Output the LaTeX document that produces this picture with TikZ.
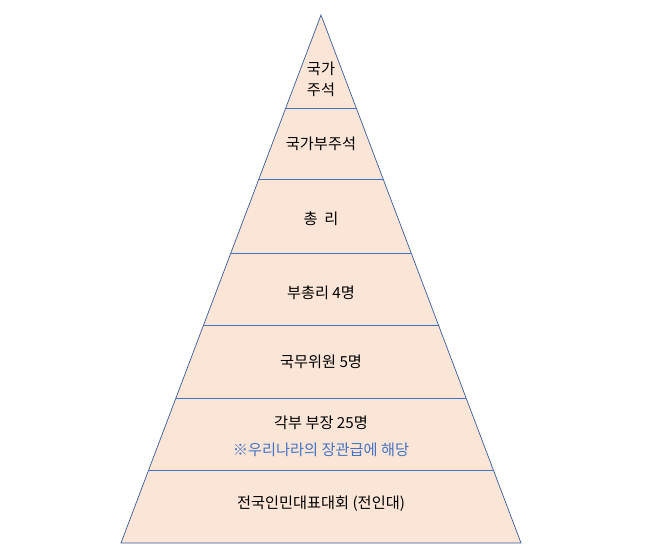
\documentclass[tikz,border=0pt]{standalone}
\usepackage{fontspec}
\newfontfamily\kr{Noto Sans CJK KR}
\usetikzlibrary{calc,positioning}
\definecolor{tierfill}{HTML}{FBE5D6}
\definecolor{tierline}{HTML}{4472C4}
\definecolor{noteblue}{HTML}{4472C4}

\begin{document}
\begin{tikzpicture}[
  x=0.03cm,y=-0.03cm,
  font=\kr\fontsize{13}{16}\selectfont,
  tier/.style={align=center,inner sep=1pt},
  note/.style={tier,text=noteblue},
  divider/.style={draw=tierline,line width=0.6pt}]
\useasboundingbox (0,0) rectangle (651,558);
\coordinate (apex) at (321,15);
\coordinate (bl) at (121,543);
\coordinate (br) at (521,543);
% pyramid body
\filldraw[fill=tierfill,draw=tierline!80!black,line width=0.6pt] (apex) -- (br) -- (bl) -- cycle;
% tier dividers
\foreach \t in {0.1775,0.3106,0.4508,0.5871,0.7254,0.8631}
  \draw[divider] ($(apex)!\t!(bl)$) -- ($(apex)!\t!(br)$);
% tier labels
\node[tier] (head) at (321,79) {국가\\[2pt]주석};
\node[tier] (vice) at (321,144) {국가부주석};
\node[tier] (premier) at (321,219) {총\ \ 리};
\node[tier] (vpremier) at (321,293) {부총리\ 4명};
\node[tier] (council) at (321,362) {국무위원\ 5명};
\node[tier] (minister) at (321,423) {각부 부장\ 25명};
\node[note] (ministernote) at (321,450) {※우리나라의 장관급에 해당};
\node[tier] (npc) at (321,504) {전국인민대표대회 (전인대)};
\end{tikzpicture}
\end{document}
